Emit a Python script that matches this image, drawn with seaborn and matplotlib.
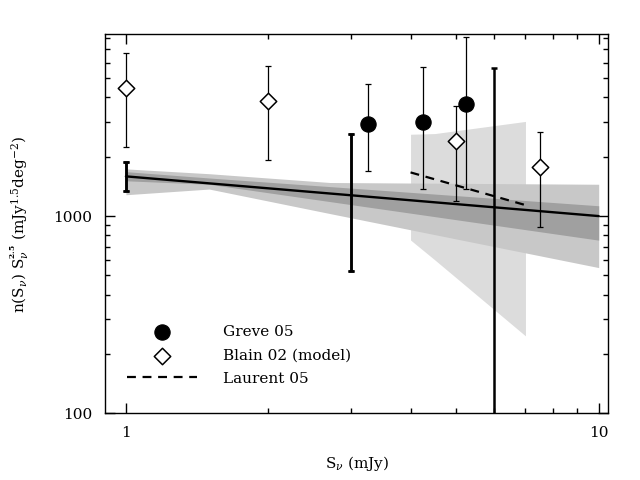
import matplotlib
matplotlib.use('Agg')
import matplotlib.pyplot as plt
import matplotlib.ticker as ticker
import seaborn as sns
import pandas as pd

# Greve 05 points
greve_x = [3.25, 4.25, 5.25]
greve_y = [2940, 3000, 3715]
greve_lo = [1700, 1365, 1378]
greve_hi = [4700, 5730, 8130]

# Blain 02 model
blain_x = [1.0, 2.0, 5.0, 7.5]
blain_y = [4480, 3820, 2395, 1765]
blain_lo = [2230, 1915, 1196, 883]
blain_hi = [6710, 5740, 3595, 2655]

# thick error bars of this work
bar_x = [1.0, 3.0, 6.0]
bar_lo = [1340, 527, 50]
bar_hi = [1888, 2595, 5610]

# fitted line and Laurent 05
fit_x = [1.0, 10.0]
fit_y = [1590, 1000]
laurent_x = [4.0, 7.0]
laurent_y = [1665, 1137]

# shaded regions
light_x = [4.0, 4.5, 7.0]
light_top = [2600, 2620, 3020]
light_bot = [756, 600, 247]
mid_x = [1.0, 1.5, 2.7, 10.0]
mid_top = [1735, 1640, 1480, 1450]
mid_bot = [1283, 1371, 1030, 548]
dark_x = [1.0, 1.5, 10.0]
dark_top = [1680, 1560, 1128]
dark_bot = [1510, 1450, 755]

sns.set_style('white')
plt.rcParams['font.family'] = ['DejaVu Serif']
plt.rcParams['mathtext.fontset'] = 'dejavuserif'
plt.rcParams['text.color'] = 'black'
plt.rcParams['axes.labelcolor'] = 'black'
plt.rcParams['xtick.color'] = 'black'
plt.rcParams['ytick.color'] = 'black'

fig = plt.figure(figsize=(6.4, 4.8), dpi=100)
ax = fig.add_axes([0.164, 0.139, 0.7865, 0.7895])
ax.set_xscale('log')
ax.set_yscale('log')

ax.fill_between(light_x, light_bot, light_top, color='#dcdcdc', lw=0, zorder=1)
ax.fill_between(mid_x, mid_bot, mid_top, color='#c8c8c8', lw=0, zorder=2)
ax.fill_between(dark_x, dark_bot, dark_top, color='#a0a0a0', lw=0, zorder=3)

fit = pd.DataFrame({'x': fit_x, 'y': fit_y})
sns.lineplot(data=fit, x='x', y='y', color='black', lw=1.7, ax=ax, zorder=4)

lau = pd.DataFrame({'x': laurent_x, 'y': laurent_y})
sns.lineplot(data=lau, x='x', y='y', color='black', lw=1.6, ax=ax, zorder=4,
             dashes=False, label='Laurent 05')
ax.lines[-1].set_dashes([4, 3])

# thick error bars
ax.errorbar(bar_x, bar_lo, yerr=[[0] * 3, [h - l for h, l in zip(bar_hi, bar_lo)]],
            fmt='none', ecolor='black', elinewidth=1.8, capsize=2.2, capthick=1.8, zorder=5)
ax.errorbar(bar_x[:2], bar_hi[:2], yerr=[[h - l for h, l in zip(bar_hi[:2], bar_lo[:2])], [0, 0]],
            fmt='none', ecolor='black', elinewidth=1.8, capsize=2.2, capthick=1.8, zorder=5)

ax.errorbar(greve_x, greve_y,
            yerr=[[y - l for y, l in zip(greve_y, greve_lo)], [h - y for y, h in zip(greve_y, greve_hi)]],
            fmt='none', ecolor='black', elinewidth=0.9, capsize=2.2, capthick=0.9, zorder=5)
ax.errorbar(blain_x, blain_y,
            yerr=[[y - l for y, l in zip(blain_y, blain_lo)], [h - y for y, h in zip(blain_y, blain_hi)]],
            fmt='none', ecolor='black', elinewidth=0.9, capsize=2.2, capthick=0.9, zorder=5)

sns.scatterplot(x=greve_x, y=greve_y, marker='o', s=120, color='black', edgecolor='black',
                ax=ax, zorder=6, label='Greve 05')
sns.scatterplot(x=blain_x, y=blain_y, marker='D', s=70, facecolor='white', edgecolor='black',
                linewidth=1.1, ax=ax, zorder=6, label='Blain 02 (model)')

ax.set_xlim(0.903, 10.48)
ax.set_ylim(100, 8350)

ax.xaxis.set_major_locator(ticker.FixedLocator([1, 10]))
ax.xaxis.set_major_formatter(ticker.FuncFormatter(lambda v, p: f'{v:g}'))
ax.xaxis.set_minor_locator(ticker.LogLocator(subs=range(2, 10)))
ax.xaxis.set_minor_formatter(ticker.NullFormatter())
ax.yaxis.set_major_locator(ticker.FixedLocator([100, 1000]))
ax.yaxis.set_major_formatter(ticker.FuncFormatter(lambda v, p: f'{v:g}'))
ax.yaxis.set_minor_locator(ticker.LogLocator(subs=range(2, 10)))
ax.yaxis.set_minor_formatter(ticker.NullFormatter())

ax.tick_params(which='both', direction='in', top=True, right=True, bottom=True, left=True,
               color='black', labelcolor='black', labelsize=11, width=1)
ax.tick_params(which='major', length=7, pad=9)
ax.tick_params(which='minor', length=3.5)
for s in ax.spines.values():
    s.set_color('black')
    s.set_linewidth(1)

ax.set_xlabel(r'S$_\nu$ (mJy)', fontsize=11, labelpad=10, color='black')
ax.set_ylabel(r'n(S$_\nu$) S$_\nu^{\mathbf{^{2.5}}}$ (mJy$^{1.5}$deg$^{-2}$)', fontsize=11,
              labelpad=16, color='black')

h, l = ax.get_legend_handles_labels()
order = [l.index('Greve 05'), l.index('Blain 02 (model)'), l.index('Laurent 05')]
leg = ax.legend([h[i] for i in order], [l[i] for i in order], loc='upper left',
                bbox_to_anchor=(0.043, 0.232), frameon=False, fontsize=11, handlelength=4.6,
                handletextpad=1.7, labelspacing=0.6, borderpad=0, borderaxespad=0, scatterpoints=1)
for t in leg.get_texts():
    t.set_color('black')

fig.savefig('out.png', dpi=100)
